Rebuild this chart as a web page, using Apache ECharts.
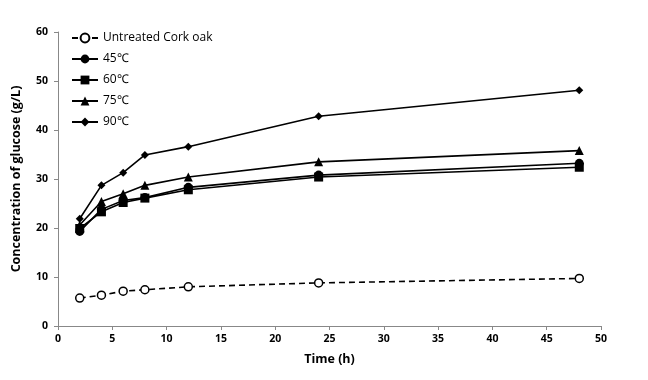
<!DOCTYPE html>
<html>
<head>
<meta charset="utf-8">
<script src="https://cdn.jsdelivr.net/npm/echarts@6/dist/echarts.min.js"></script>
<style>html,body{margin:0;padding:0;background:#fff}#c{width:648px;height:380px}</style>
</head>
<body>
<div id="c"></div>
<script>
const times = [2, 4, 6, 8, 12, 24, 48];
const seriesNames = ['Untreated Cork oak', '45\u2103', '60\u2103', '75\u2103', '90\u2103'];
const untreated = [5.7, 6.3, 7.1, 7.4, 8.0, 8.8, 9.7];
const t45 = [19.3, 23.8, 25.6, 26.2, 28.3, 30.8, 33.2];
const t60 = [19.9, 23.3, 25.2, 26.1, 27.8, 30.4, 32.4];
const t75 = [20.6, 25.4, 27.0, 28.7, 30.4, 33.5, 35.8];
const t90 = [21.9, 28.7, 31.3, 34.9, 36.6, 42.8, 48.1];
const xTicks = [0, 5, 10, 15, 20, 25, 30, 35, 40, 45, 50];
const yTicks = [0, 10, 20, 30, 40, 50, 60];

const pair = arr => times.map((t, i) => [t, arr[i]]);
const font = '"Open Sans", "Liberation Sans", sans-serif';
const mk = (name, arr, symbol, size, dashed) => ({
  name, type: 'line', data: pair(arr), symbol, symbolSize: size,
  lineStyle: { color: '#000', width: 1.6, type: dashed ? [6, 4] : 'solid' },
  itemStyle: { color: dashed ? '#fff' : '#000', borderColor: '#000', borderWidth: dashed ? 1.5 : 0 },
  emphasis: { disabled: true }, z: 2
});
const chart = echarts.init(document.getElementById('c'));
chart.setOption({
  animation: false,
  backgroundColor: '#fff',
  grid: { left: 58, right: 47, top: 32, bottom: 54 },
  legend: {
    orient: 'vertical', left: 66, top: 27, itemGap: 9, itemWidth: 26, itemHeight: 11,
    data: seriesNames,
    textStyle: { fontFamily: font, fontSize: 12, color: '#000' }
  },
  xAxis: {
    type: 'value', min: 0, max: 50, interval: 5,
    name: 'Time (h)', nameLocation: 'middle', nameGap: 27,
    nameTextStyle: { fontFamily: font, fontSize: 12.5, fontWeight: 'bold', color: '#000' },
    axisLine: { lineStyle: { color: '#888' } },
    axisTick: { show: true, inside: false, length: 4, lineStyle: { color: '#888' } },
    axisLabel: { fontFamily: font, fontSize: 10.5, fontWeight: 'bold', color: '#000', margin: 8,
      formatter: v => xTicks.includes(v) ? String(v) : '' },
    splitLine: { show: false }
  },
  yAxis: {
    type: 'value', min: 0, max: 60, interval: 10,
    name: 'Concentration of glucose (g/L)', nameLocation: 'middle', nameGap: 35, nameRotate: 90,
    nameTextStyle: { fontFamily: font, fontSize: 12.5, fontWeight: 'bold', color: '#000' },
    axisLine: { show: true, lineStyle: { color: '#888' } },
    axisTick: { show: true, inside: false, length: 4, lineStyle: { color: '#888' } },
    axisLabel: { fontFamily: font, fontSize: 10.5, fontWeight: 'bold', color: '#000', margin: 10,
      formatter: v => yTicks.includes(v) ? String(v) : '' },
    splitLine: { show: false }
  },
  series: [
    mk(seriesNames[0], untreated, 'circle', 8, true),
    mk(seriesNames[1], t45, 'circle', 9, false),
    mk(seriesNames[2], t60, 'rect', 9, false),
    mk(seriesNames[3], t75, 'triangle', 9, false),
    mk(seriesNames[4], t90, 'diamond', 8, false)
  ]
});
</script>
</body>
</html>
